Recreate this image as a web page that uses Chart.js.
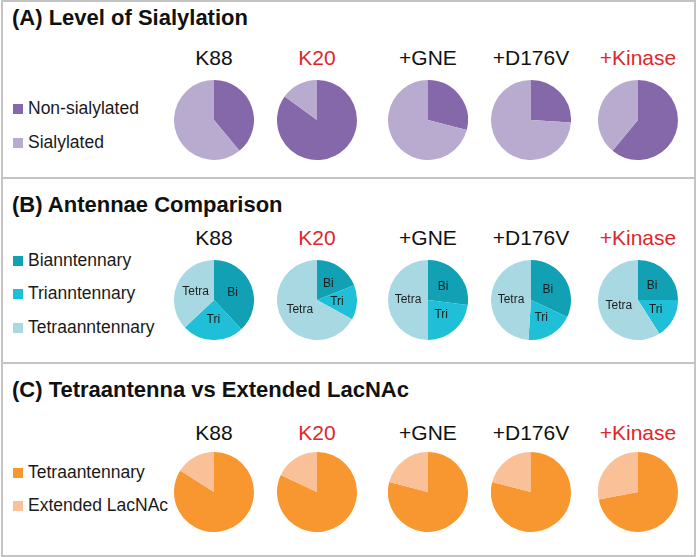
<!DOCTYPE html>
<html>
<head>
<meta charset="utf-8">
<script src="https://cdn.jsdelivr.net/npm/chart.js@4.4.1/dist/chart.umd.min.js"></script>
<style>
  body { margin:0; background:#fff; font-family:"Liberation Sans", Arial, sans-serif; }
  #page { position:relative; width:700px; height:557px; overflow:hidden; }
  .panel { position:absolute; left:1px; width:695px; border:2px solid #c4c4c4; box-sizing:border-box; }
  .title { position:absolute; left:12px; font-weight:bold; font-size:22px; line-height:22px; color:#111; white-space:nowrap; }
  .group { position:absolute; width:110px; text-align:center; font-size:21px; line-height:22px; white-space:nowrap; }
  .legend { position:absolute; left:13px; font-size:17.5px; line-height:20px; color:#1a1a1a; white-space:nowrap; }
  .legend span { display:inline-block; width:10px; height:10px; margin-right:5px; vertical-align:0px; }
  .pie { position:absolute; width:80px; height:80px; }
</style>
</head>
<body>
<div id="page"></div>
<script>
'use strict';
// groups and label colours
var groups = ['K88', 'K20', '+GNE', '+D176V', '+Kinase'];
var groupColors = ['#111111', '#e0262b', '#111111', '#111111', '#e0262b'];
var groupX = [214, 317, 428, 531, 638];

// (A) level of sialylation, % of glycans
var nonSialylated = [39, 85, 29, 26, 61];
var sialylated = [61, 15, 71, 74, 39];

// (B) antennae comparison
var biantennary = [38, 19, 27, 32, 25];
var triantennary = [25, 14, 23, 19, 16];
var tetraantennary = [37, 67, 50, 49, 59];
var antennaShort = ['Bi', 'Tri', 'Tetra'];

// (C) tetraantenna vs extended LacNAc
var tetraC = [84, 82, 79, 79, 72];
var extendedLacNAc = [16, 18, 21, 21, 28];

var page = document.getElementById('page');

var panels = [
  {top:0, height:179, title:'(A) Level of Sialylation', titleY:18, groupY:58, pieY:120,
   names:['Non-sialylated', 'Sialylated'], colors:['#8468a9', '#b9abd0'],
   series:[nonSialylated, sialylated], legendY:[108, 142], inner:null},
  {top:177, height:187, title:'(B) Antennae Comparison', titleY:205, groupY:238, pieY:300,
   names:['Bianntennary', 'Trianntennary', 'Tetraanntennary'], colors:['#12a0b4', '#1fc0d7', '#a8d9e3'],
   series:[biantennary, triantennary, tetraantennary], legendY:[260, 293, 327], inner:antennaShort},
  {top:362, height:195, title:'(C) Tetraantenna vs Extended LacNAc', titleY:390, groupY:433, pieY:492,
   names:['Tetraantennary', 'Extended LacNAc'], colors:['#f8962f', '#fac097'],
   series:[tetraC, extendedLacNAc], legendY:[472, 505], inner:null}
];

// writes Bi / Tri / Tetra inside the slices
var sliceLabels = {
  id: 'sliceLabels',
  afterDatasetsDraw: function(chart) {
    var names = chart.options.plugins.sliceLabels.names;
    if (!names) return;
    var ctx = chart.ctx;
    var meta = chart.getDatasetMeta(0);
    ctx.save();
    ctx.font = '12px "Liberation Sans", Arial, sans-serif';
    ctx.fillStyle = '#1e1e1e';
    ctx.textAlign = 'center';
    ctx.textBaseline = 'middle';
    for (var i = 0; i < meta.data.length; i++) {
      var p = meta.data[i].tooltipPosition();
      ctx.fillText(names[i], p.x, p.y);
    }
    ctx.restore();
  }
};

function addDiv(cls, left, top, html) {
  var d = document.createElement('div');
  d.className = cls;
  d.style.left = left + 'px';
  d.style.top = top + 'px';
  d.innerHTML = html;
  page.appendChild(d);
  return d;
}

function drawPie(panel, g) {
  var box = addDiv('pie', groupX[g] - 40, panel.pieY - 40, '');
  var canvas = document.createElement('canvas');
  box.appendChild(canvas);
  var values = [];
  for (var s = 0; s < panel.series.length; s++) {
    values.push(panel.series[s][g]);
  }
  new Chart(canvas.getContext('2d'), {
    type: 'pie',
    data: {
      labels: panel.names,
      datasets: [{ data: values, backgroundColor: panel.colors, borderWidth: 0 }]
    },
    options: {
      responsive: true,
      maintainAspectRatio: false,
      animation: false,
      events: [],
      layout: { padding: 0 },
      plugins: {
        legend: { display: false },
        tooltip: { enabled: false },
        sliceLabels: { names: panel.inner }
      }
    },
    plugins: [sliceLabels]
  });
}

for (var p = 0; p < panels.length; p++) {
  var panel = panels[p];
  var box = document.createElement('div');
  box.className = 'panel';
  box.style.top = panel.top + 'px';
  box.style.height = panel.height + 'px';
  page.appendChild(box);

  addDiv('title', 12, panel.titleY - 11, panel.title);

  for (var l = 0; l < panel.names.length; l++) {
    addDiv('legend', 13, panel.legendY[l] - 10,
      '<span style="background:' + panel.colors[l] + '"></span>' + panel.names[l]);
  }

  for (var g = 0; g < groups.length; g++) {
    var lab = addDiv('group', groupX[g] - 55, panel.groupY - 11, groups[g]);
    lab.style.color = groupColors[g];
    drawPie(panel, g);
  }
}
</script>
</body>
</html>
